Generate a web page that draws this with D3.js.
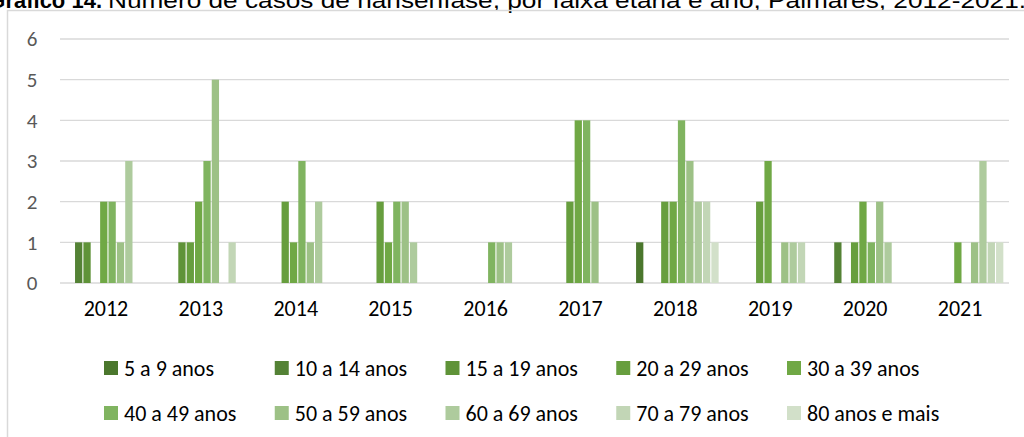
<!DOCTYPE html>
<html>
<head>
<meta charset="utf-8">
<script src="https://cdn.jsdelivr.net/npm/d3@7"></script>
<style>
  body { margin: 0; background: #fff; }
  svg { display: block; }
</style>
</head>
<body>
<div id="chart"></div>
<script>
const years = ["2012", "2013", "2014", "2015", "2016", "2017", "2018", "2019", "2020", "2021"];
const faixas = ["5 a 9 anos", "10 a 14 anos", "15 a 19 anos", "20 a 29 anos", "30 a 39 anos",
                "40 a 49 anos", "50 a 59 anos", "60 a 69 anos", "70 a 79 anos", "80 anos e mais"];
// one row per year, one value per faixa
const casos = [
  [0, 1, 1, 0, 2, 2, 1, 3, 0, 0],
  [0, 0, 1, 1, 2, 3, 5, 0, 1, 0],
  [0, 0, 0, 2, 1, 3, 1, 2, 0, 0],
  [0, 0, 0, 2, 1, 2, 2, 1, 0, 0],
  [0, 0, 0, 0, 0, 1, 1, 1, 0, 0],
  [0, 0, 0, 2, 4, 4, 2, 0, 0, 0],
  [1, 0, 0, 2, 2, 4, 3, 2, 2, 1],
  [0, 0, 0, 2, 3, 0, 1, 1, 1, 0],
  [0, 1, 0, 1, 2, 1, 2, 1, 0, 0],
  [0, 0, 0, 0, 1, 0, 1, 3, 1, 1]
];
const yTicks = [0, 1, 2, 3, 4, 5, 6];
const cores = ["#4b772d", "#548235", "#5f9338", "#679e3e", "#70a845",
               "#80b460", "#9dc186", "#aecb9d", "#c2d6b6", "#d2e0c9"];

const W = 1024, H = 437;
const font = "Carlito, Lato, sans-serif";

const svg = d3.select("#chart").append("svg").attr("width", W).attr("height", H);

// title, cut off at the top of the picture
svg.append("text")
  .attr("x", 102).attr("y", 8)
  .attr("text-anchor", "end")
  .attr("font-family", "Liberation Sans, Arial, sans-serif")
  .attr("font-size", "22px").attr("font-weight", "bold")
  .text("Gráfico 14.");
svg.append("text")
  .attr("x", 108).attr("y", 8)
  .attr("font-family", "Liberation Sans, Arial, sans-serif")
  .attr("font-size", "22px")
  .attr("textLength", 918).attr("lengthAdjust", "spacingAndGlyphs")
  .text("Número de casos de hanseníase, por faixa etária e ano, Palmares, 2012-2021.");

// chart frame
svg.append("rect")
  .attr("x", 7.5).attr("y", 10.5).attr("width", W + 20).attr("height", H + 20)
  .attr("fill", "none").attr("stroke", "#d9d9d9").attr("stroke-width", 1.5);

const x0 = d3.scaleBand().domain(years).range([60.5, 1009.5]).paddingInner(0.13).paddingOuter(0.065);
const x1 = d3.scaleBand().domain(faixas).range([0, x0.bandwidth()]).paddingInner(0.13);
const y = d3.scaleLinear().domain([0, 6]).range([283, 39]);

// gridlines
svg.append("g")
  .selectAll("line")
  .data(yTicks)
  .join("line")
    .attr("x1", 60).attr("x2", 1009)
    .attr("y1", d => y(d)).attr("y2", d => y(d))
    .attr("stroke", "#d9d9d9").attr("stroke-width", 1.3);

// y axis labels
const yAxis = svg.append("g")
  .attr("transform", "translate(37.5,0)")
  .call(d3.axisLeft(y).tickValues(yTicks).tickFormat(d3.format("d")).tickSize(0).tickPadding(0));
yAxis.select(".domain").remove();
yAxis.selectAll("text")
  .attr("font-family", font).attr("font-size", "21px").attr("fill", "#595959");

// bars
const grupos = svg.append("g")
  .selectAll("g")
  .data(years)
  .join("g")
    .attr("transform", d => `translate(${x0(d)},0)`);

grupos.selectAll("rect")
  .data((d, i) => casos[i].map((v, j) => ({faixa: faixas[j], valor: v, cor: cores[j]})).filter(e => e.valor > 0))
  .join("rect")
    .attr("x", d => x1(d.faixa))
    .attr("width", x1.bandwidth())
    .attr("y", d => y(d.valor))
    .attr("height", d => y(0) - y(d.valor))
    .attr("fill", d => d.cor);

// x axis labels
const xAxis = svg.append("g")
  .attr("transform", "translate(0,300)")
  .call(d3.axisBottom(x0).tickSize(0).tickPadding(0));
xAxis.select(".domain").remove();
xAxis.selectAll("text")
  .attr("dx", -2).attr("dy", "0.71em")
  .attr("font-family", font).attr("font-size", "22px").attr("fill", "#000");

// legend, two rows of five
const legendX = d3.scalePoint().domain(d3.range(5)).range([104, 787]);
const legendY = d3.scalePoint().domain([0, 1]).range([368, 413]);

const itens = svg.append("g")
  .selectAll("g")
  .data(faixas)
  .join("g")
    .attr("transform", (d, i) => `translate(${legendX(i % 5)},${legendY(Math.floor(i / 5))})`);

itens.append("rect")
  .attr("x", 0).attr("y", -7).attr("width", 14).attr("height", 14)
  .attr("fill", (d, i) => cores[i]);

itens.append("text")
  .attr("x", 20).attr("y", 7.5)
  .attr("font-family", font).attr("font-size", "22px").attr("fill", "#000")
  .text(d => d);
</script>
</body>
</html>
